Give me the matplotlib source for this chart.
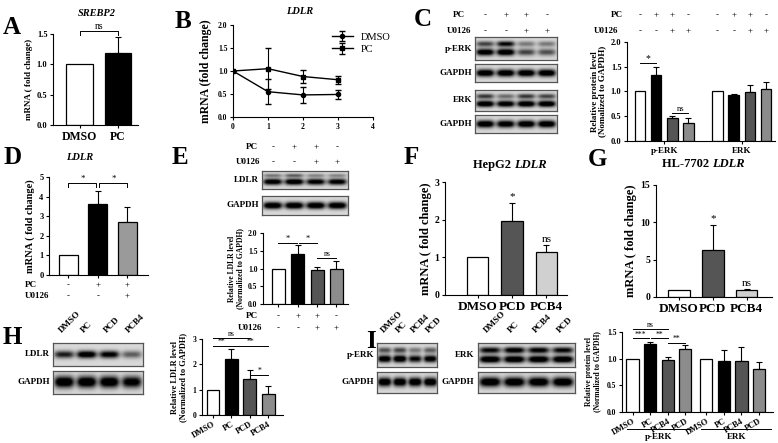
import numpy as np
import matplotlib.pyplot as plt
from matplotlib.transforms import blended_transform_factory as blend

plt.rcParams['font.family'] = 'Liberation Serif'
plt.rcParams['font.weight'] = 'bold'
plt.rcParams['axes.labelweight'] = 'bold'
plt.rcParams['axes.linewidth'] = 0.8
plt.rcParams['xtick.major.width'] = 0.8
plt.rcParams['ytick.major.width'] = 0.8
plt.rcParams['xtick.major.size'] = 2.5
plt.rcParams['ytick.major.size'] = 2.5
plt.rcParams['xtick.major.pad'] = 1.5
plt.rcParams['ytick.major.pad'] = 1.5

# ---------- data
srebp2 = [1.0, 1.19]
srebp2_err = [0.0, 0.26]

time_pts = [0, 1, 2, 3]
ldlr_pc = [1.0, 1.05, 0.88, 0.81]
ldlr_pc_err = [0.0, 0.45, 0.14, 0.09]
ldlr_dmso = [1.0, 0.55, 0.48, 0.49]
ldlr_dmso_err = [0.0, 0.27, 0.18, 0.10]

c_perk = [1.0, 1.33, 0.47, 0.36]
c_perk_err = [0.0, 0.16, 0.03, 0.10]
c_erk = [1.0, 0.92, 0.98, 1.06]
c_erk_err = [0.0, 0.03, 0.16, 0.14]

d_ldlr = [1.0, 3.6, 2.7]
d_ldlr_err = [0.0, 0.7, 0.75]

e_ldlr = [1.0, 1.4, 0.96, 1.0]
e_ldlr_err = [0.0, 0.25, 0.07, 0.2]

f_ldlr = [1.0, 1.97, 1.14]
f_ldlr_err = [0.0, 0.48, 0.18]
g_ldlr = [1.0, 6.35, 0.9]
g_ldlr_err = [0.0, 3.3, 0.2]
fg_labels = ['DMSO', 'PCD', 'PCB4']

h_ldlr = [1.0, 2.2, 1.42, 0.84]
h_ldlr_err = [0.0, 0.4, 0.35, 0.29]
h_labels = ['DMSO', 'PC', 'PCD', 'PCB4']

i_perk = [1.0, 1.27, 0.97, 1.19]
i_perk_err = [0.0, 0.05, 0.07, 0.06]
i_erk = [1.0, 0.96, 0.95, 0.80]
i_erk_err = [0.0, 0.20, 0.26, 0.13]
i_labels = ['DMSO', 'PC', 'PCB4', 'PCD']

pc_signs = ['-', '+', '+', '-']
u0126_signs = ['-', '-', '+', '+']
d_pc_signs = ['-', '+', '+']
d_u_signs = ['-', '-', '+']

# band intensities per lane for the blot images: (row position, thickness, lanes)
c_perk_bands = [(0.3, 0.12, [0.55, 0.8, 0.35, 0.35]), (0.66, 0.15, [0.95, 1.0, 0.55, 0.5])]
c_gapdh_bands = [(0.5, 0.2, [1.0, 1.0, 1.0, 1.0])]
c_erk_bands = [(0.3, 0.12, [0.6, 0.4, 0.6, 0.55]), (0.66, 0.15, [1.0, 0.95, 1.0, 1.0])]
c_gapdh2_bands = [(0.5, 0.2, [1.0, 0.95, 1.0, 1.0])]
e_ldlr_bands = [(0.25, 0.1, [0.35, 0.45, 0.3, 0.3]), (0.6, 0.17, [0.95, 1.0, 0.9, 0.9])]
e_gapdh_bands = [(0.5, 0.18, [1.0, 1.0, 1.0, 1.0])]
h_ldlr_bands = [(0.5, 0.16, [0.7, 0.95, 0.85, 0.45])]
h_gapdh_bands = [(0.5, 0.24, [1.0, 1.0, 1.0, 0.9])]
i_perk_bands = [(0.3, 0.12, [0.5, 0.55, 0.35, 0.45]), (0.66, 0.15, [0.95, 1.0, 0.8, 0.9])]
i_gapdh_bands = [(0.5, 0.2, [1.0, 1.0, 1.0, 1.0])]
i_erk_bands = [(0.3, 0.13, [0.8, 0.9, 0.85, 0.8]), (0.68, 0.15, [1.0, 1.0, 1.0, 1.0])]
i_gapdh2_bands = [(0.5, 0.22, [1.0, 1.0, 1.0, 1.0])]

W, H = 778, 443
fig = plt.figure(figsize=(W / 100, H / 100), dpi=100)


def axpx(x0, y0, x1, y1):
    return fig.add_axes([x0 / W, 1 - y1 / H, (x1 - x0) / W, (y1 - y0) / H])


def ftext(x, y, s, **kw):
    kw.setdefault('ha', 'center')
    kw.setdefault('va', 'center')
    return fig.text(x / W, 1 - y / H, s, **kw)


def letter(x, y, s):
    ftext(x, y, s, fontsize=18, ha='left')


def style(ax, fs=6):
    for sp in ['top', 'right']:
        ax.spines[sp].set_visible(False)
    ax.tick_params(labelsize=fs)


def bars(ax, pos, vals, errs, colors, width):
    pos = np.asarray(pos, float)
    ax.bar(pos, vals, width=width, color=colors, edgecolor='black', linewidth=0.9, zorder=2)
    errs = np.asarray(errs)
    m = errs > 0
    ax.errorbar(pos[m], np.asarray(vals)[m], yerr=[np.zeros(m.sum()), errs[m]], fmt='none',
                ecolor='black', elinewidth=0.8, capsize=2.3, capthick=0.8, zorder=1)


def sig(ax, x1, x2, y, s, leg=0.0, fs=6, gap=0.0):
    ax.plot([x1, x1, x2, x2], [y - leg, y, y, y - leg], color='black', lw=0.7, clip_on=False)
    ax.text((x1 + x2) / 2, y + gap, s, ha='center', va='bottom', fontsize=fs,
            fontweight='normal', clip_on=False)


def sign_row(ax, xs, ypx, signs, fs=6.5):
    tr = blend(ax.transData, fig.transFigure)
    for x, s in zip(xs, signs):
        ax.text(x, 1 - ypx / H, s, transform=tr, ha='center', va='center', fontsize=fs,
                fontweight='normal')


def blot(x0, y0, x1, y1, bands, bg=0.15):
    n = len(bands[0][2])
    hp, lw = 40, 40
    img = np.full((hp, n * lw), bg)
    yy = (np.arange(hp) + 0.5) / hp
    xx = (np.arange(n * lw) + 0.5) / lw
    for yc, sy, inten in bands:
        py = np.exp(-((yy - yc) / sy) ** 2)
        for i, a in enumerate(inten):
            px = np.exp(-np.abs((xx - (i + 0.5)) / 0.44) ** 4)
            img += 1.1 * a * np.outer(py, px)
    ax = axpx(x0, y0, x1, y1)
    ax.imshow(np.clip(img, 0, 1), cmap='gray_r', vmin=0, vmax=1, aspect='auto',
              extent=(0, n, 1, 0), interpolation='bilinear')
    ax.set_xticks([])
    ax.set_yticks([])
    for sp in ax.spines.values():
        sp.set_color('#555555')
        sp.set_linewidth(0.9)
    return ax


# ---------------- A
letter(3, 27, 'A')
ftext(97, 14, 'SREBP2', fontsize=7.5, style='italic')
ax = axpx(53, 34, 138, 125)
style(ax)
bars(ax, [0, 1], srebp2, srebp2_err, ['white', 'black'], 0.68)
ax.set_xlim(-0.69, 1.52)
ax.set_ylim(0, 1.5)
ax.set_yticks([0, 0.5, 1.0, 1.5])
ax.set_yticklabels(['0.0', '0.5', '1.0', '1.5'])
ax.set_xticks([0, 1])
ax.set_xticklabels(['DMSO', 'PC'], fontsize=8.5)
ax.set_ylabel('mRNA ( fold change)', fontsize=6.5, labelpad=3)
sig(ax, 0, 1, 1.55, 'ns', leg=0.06, fs=7)

# ---------------- B
letter(175, 22, 'B')
ftext(300, 12, 'LDLR', fontsize=7.5, style='italic')
ax = axpx(233, 25, 373, 117)
style(ax, 5.5)
ax.errorbar(time_pts, ldlr_dmso, yerr=ldlr_dmso_err, color='black', marker='o', ms=3, lw=1,
            capsize=2.3, elinewidth=0.8, label='DMSO')
ax.errorbar(time_pts, ldlr_pc, yerr=ldlr_pc_err, color='black', marker='s', ms=3, lw=1,
            capsize=2.3, elinewidth=0.8, label='PC')
ax.set_xlim(0, 4)
ax.set_ylim(0, 2)
ax.set_xticks([0, 1, 2, 3, 4])
ax.set_yticks([0, 0.5, 1.0, 1.5, 2.0])
ax.set_yticklabels(['0.0', '0.5', '1.0', '1.5', '2.0'])
ax.set_ylabel('mRNA (fold change)', fontsize=8.5, labelpad=4)
leg = ax.legend(loc='upper right', bbox_to_anchor=(400 / W, 1 - 23 / H),
                bbox_transform=fig.transFigure, frameon=False, handlelength=2,
                prop={'size': 7.5, 'weight': 'normal'}, labelspacing=0.3)

# ---------------- C (blots)
letter(414, 20, 'C')
lanes = [0.5, 1.5, 2.5, 3.5]
b = blot(475, 37, 557, 60, c_perk_bands)
ftext(459, 15, 'PC', fontsize=6.5)
ftext(459, 31, 'U0126', fontsize=6.5)
sign_row(b, lanes, 15, pc_signs)
sign_row(b, lanes, 31, u0126_signs)
blot(475, 64, 557, 82, c_gapdh_bands)
blot(475, 90, 557, 111, c_erk_bands)
blot(475, 115, 557, 133, c_gapdh2_bands)
for y, s in [(49, 'p-ERK'), (73, 'GAPDH'), (100, 'ERK'), (124, 'GAPDH')]:
    ftext(472, y, s, fontsize=6.5, ha='right')

# C bar chart
ax = axpx(627, 42, 775, 141)
style(ax)
pos_c = [0, 1, 2, 3, 4.8, 5.8, 6.8, 7.8]
cols4 = ['white', 'black', '#555555', '#8c8c8c']
bars(ax, pos_c, c_perk + c_erk, c_perk_err + c_erk_err, cols4 * 2, 0.66)
ax.set_xlim(-0.8, 8.35)
ax.set_ylim(0, 2)
ax.set_yticks([0, 0.5, 1.0, 1.5, 2.0])
ax.set_yticklabels(['0.0', '0.5', '1.0', '1.5', '2.0'])
ax.set_xticks([1.5, 6.3])
ax.set_xticklabels(['p-ERK', 'ERK'], fontsize=6.5)
ax.set_ylabel('Relative protein level\n(Nomalized to GAPDH)', fontsize=6.5, labelpad=3,
              linespacing=1.0)
sig(ax, 0, 1, 1.57, '*', fs=7)
sig(ax, 2, 3, 0.57, 'ns', fs=6)
ftext(617, 15, 'PC', fontsize=6.5)
ftext(606, 31, 'U0126', fontsize=6.5)
sign_row(ax, pos_c, 15, pc_signs * 2)
sign_row(ax, pos_c, 31, u0126_signs * 2)

# ---------------- D
letter(3, 157, 'D')
ftext(80, 158, 'LDLR', fontsize=7.5, style='italic')
ax = axpx(49, 177, 148, 275)
style(ax)
bars(ax, [0, 1, 2], d_ldlr, d_ldlr_err, ['white', 'black', '#9a9a9a'], 0.64)
ax.set_xlim(-0.66, 2.7)
ax.set_ylim(0, 5)
ax.set_yticks([0, 1, 2, 3, 4, 5])
ax.set_xticks([0, 1, 2])
ax.set_xticklabels([])
ax.set_ylabel('mRNA ( fold change)', fontsize=7.5, labelpad=3)
sig(ax, 0, 0.95, 4.7, '*', leg=0.2, fs=6.5)
sig(ax, 1.05, 2, 4.7, '*', leg=0.2, fs=6.5)
ftext(25, 285, 'PC', fontsize=6.5, ha='left')
ftext(25, 296, 'U0126', fontsize=6.5, ha='left')
sign_row(ax, [0, 1, 2], 285, d_pc_signs)
sign_row(ax, [0, 1, 2], 296, d_u_signs)

# ---------------- E
letter(172, 157, 'E')
b = blot(262, 171, 348, 189, e_ldlr_bands)
blot(262, 196, 348, 215, e_gapdh_bands)
ftext(252, 147, 'PC', fontsize=6.5)
ftext(248, 162, 'U0126', fontsize=6.5)
sign_row(b, lanes, 147, pc_signs)
sign_row(b, lanes, 162, u0126_signs)
ftext(259, 180, 'LDLR', fontsize=6.5, ha='right')
ftext(259, 205, 'GAPDH', fontsize=6.5, ha='right')

ax = axpx(263, 233, 348, 304)
style(ax, 5.5)
bars(ax, [0, 1, 2, 3], e_ldlr, e_ldlr_err, cols4, 0.68)
ax.set_xlim(-0.8, 3.6)
ax.set_ylim(0, 2)
ax.set_yticks([0, 0.5, 1.0, 1.5, 2.0])
ax.set_yticklabels(['0.0', '0.5', '1.0', '1.5', '2.0'])
ax.set_xticks([0, 1, 2, 3])
ax.set_xticklabels([])
ax.set_ylabel('Relative LDLR level\n(Normalized to GAPDH)', fontsize=5.5, labelpad=3,
              linespacing=1.0)
sig(ax, 0, 0.95, 1.72, '*', fs=6)
sig(ax, 1.05, 2, 1.72, '*', fs=6)
sig(ax, 2, 3, 1.3, 'ns', fs=5.5)
ftext(252, 316, 'PC', fontsize=6.5)
ftext(250, 328, 'U0126', fontsize=6.5)
sign_row(ax, [0, 1, 2, 3], 316, pc_signs)
sign_row(ax, [0, 1, 2, 3], 328, u0126_signs)

# ---------------- F
letter(404, 157, 'F')
ftext(514, 165, 'HepG2 ', fontsize=9, ha='right')
ftext(514, 165, 'LDLR', fontsize=9, ha='left', style='italic')
ax = axpx(445, 182, 567, 295)
style(ax, 7)
fg_cols = ['white', '#555555', '#d0d0d0']
bars(ax, [0, 1, 2], f_ldlr, f_ldlr_err, fg_cols, 0.62)
ax.set_xlim(-0.95, 2.6)
ax.set_ylim(0, 3)
ax.set_yticks([0, 1, 2, 3])
ax.set_xticks([0, 1, 2])
ax.set_xticklabels(fg_labels, fontsize=9.5)
ax.set_ylabel('mRNA ( fold change)', fontsize=9, labelpad=2)
ax.text(1, 2.5, '*', ha='center', va='bottom', fontsize=8, fontweight='normal')
ax.text(2, 1.35, 'ns', ha='center', va='bottom', fontsize=8, fontweight='normal')

# ---------------- G
letter(588, 160, 'G')
ftext(712, 164, 'HL-7702 ', fontsize=9, ha='right')
ftext(712, 164, 'LDLR', fontsize=9, ha='left', style='italic')
ax = axpx(656, 185, 772, 297)
style(ax, 7)
bars(ax, [0, 1, 2], g_ldlr, g_ldlr_err, fg_cols, 0.64)
ax.set_xlim(-0.68, 2.75)
ax.set_ylim(0, 15)
ax.set_yticks([0, 5, 10, 15])
ax.set_xticks([0, 1, 2])
ax.set_xticklabels(fg_labels, fontsize=9.5)
ax.set_ylabel('mRNA ( fold change)', fontsize=9, labelpad=3)
ax.text(1, 9.9, '*', ha='center', va='bottom', fontsize=8, fontweight='normal')
ax.text(2, 1.2, 'ns', ha='center', va='bottom', fontsize=8, fontweight='normal')

# ---------------- H
letter(3, 337, 'H')
b = blot(53, 343, 143, 366, h_ldlr_bands)
blot(53, 371, 143, 394, h_gapdh_bands)
tr = blend(b.transData, fig.transFigure)
for x, s in zip(lanes, h_labels):
    b.text(x - 0.3, 1 - 334 / H, s, transform=tr, rotation=45, ha='left', va='bottom',
           fontsize=6.5)
ftext(50, 354, 'LDLR', fontsize=6.5, ha='right')
ftext(50, 382, 'GAPDH', fontsize=6.5, ha='right')

ax = axpx(202, 339, 283, 415)
style(ax, 5.5)
bars(ax, [0, 1, 2, 3], h_ldlr, h_ldlr_err, cols4, 0.7)
ax.set_xlim(-0.6, 3.8)
ax.set_ylim(0, 3)
ax.set_yticks([0, 1, 2, 3])
ax.set_xticks([0, 1, 2, 3])
ax.set_xticklabels(h_labels, rotation=30, fontsize=6, ha='right', rotation_mode='anchor')
ax.set_ylabel('Relative LDLR level\n(Normalized to GAPDH)', fontsize=6, labelpad=4,
              linespacing=1.0)
sig(ax, 0, 2, 3.05, 'ns', fs=5.5)
sig(ax, 0, 0.95, 2.72, '**', fs=5.5)
sig(ax, 1.05, 3, 2.72, '**', fs=5.5)
sig(ax, 2, 3, 1.58, '*', fs=5.5)

# ---------------- I
letter(366, 342, 'I')
b = blot(377, 343, 437, 367, i_perk_bands)
blot(377, 372, 437, 393, i_gapdh_bands)
tr = blend(b.transData, fig.transFigure)
for x, s in zip(lanes, i_labels):
    b.text(x - 0.3, 1 - 334 / H, s, transform=tr, rotation=45, ha='left', va='bottom',
           fontsize=6.5)
ftext(374, 355, 'p-ERK', fontsize=6.5, ha='right')
ftext(374, 382, 'GAPDH', fontsize=6.5, ha='right')
b = blot(478, 343, 575, 367, i_erk_bands)
blot(478, 372, 575, 393, i_gapdh2_bands)
tr = blend(b.transData, fig.transFigure)
for x, s in zip(lanes, i_labels):
    b.text(x - 0.3, 1 - 334 / H, s, transform=tr, rotation=45, ha='left', va='bottom',
           fontsize=6.5)
ftext(474, 355, 'ERK', fontsize=6.5, ha='right')
ftext(474, 382, 'GAPDH', fontsize=6.5, ha='right')

ax = axpx(622, 332, 773, 412)
style(ax, 5.5)
pos_i = [0, 1, 2, 3, 4.2, 5.2, 6.2, 7.2]
bars(ax, pos_i, i_perk + i_erk, i_perk_err + i_erk_err, cols4 * 2, 0.7)
ax.set_xlim(-0.6, 8.0)
ax.set_ylim(0, 1.5)
ax.set_yticks([0, 0.5, 1.0, 1.5])
ax.set_yticklabels(['0.0', '0.5', '1.0', '1.5'])
ax.set_xticks(pos_i)
ax.set_xticklabels(i_labels * 2, rotation=30, fontsize=6, ha='right', rotation_mode='anchor')
ax.set_ylabel('Relative protein level\n(Normalized to GAPDH)', fontsize=5.5, labelpad=4,
              linespacing=1.0)
sig(ax, 0, 2, 1.55, 'ns', fs=5.5)
sig(ax, 0, 0.95, 1.38, '***', fs=5.5)
sig(ax, 1.05, 2, 1.38, '**', fs=5.5)
sig(ax, 2, 3, 1.3, '**', fs=5.5)
tr = blend(ax.transData, fig.transFigure)
for x0, x1, s in [(0, 3, 'p-ERK'), (4.2, 7.6, 'ERK')]:
    ax.plot([x0 - 0.3, x1 + 0.3], [1 - 429 / H] * 2, transform=tr, color='black', lw=0.7,
            clip_on=False)
    ax.text((x0 + x1) / 2, 1 - 437 / H, s, transform=tr, ha='center', va='center', fontsize=6.5)

fig.savefig('out.png', dpi=100)
